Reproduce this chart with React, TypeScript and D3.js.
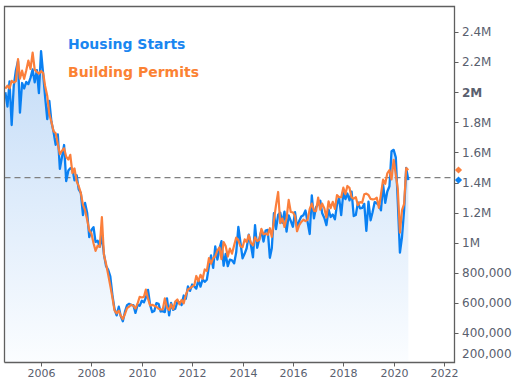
import React from "react";
import * as d3 from "d3";

// Monthly series, thousands of units (SAAR), starting Aug 2004
const firstYear = 2004;
const firstMonth = 7; // August (0-based)

const housingStarts = [
  2000, 1905, 2072, 1782, 2042,
  2144, 2207, 1864, 2061, 2025, 2068, 2054, 2095, 2151, 2065, 2147, 1994,
  2273, 2119, 1969, 1821, 1942, 1802, 1737, 1650, 1720, 1491, 1570, 1649,
  1409, 1480, 1495, 1490, 1415, 1448, 1354, 1330, 1183, 1264, 1197, 1037,
  1084, 1103, 1005, 1013, 973, 1046, 923, 844, 820, 777, 652, 560,
  517, 575, 513, 478, 540, 585, 594, 586, 585, 534, 588, 581,
  614, 604, 636, 687, 588, 539, 546, 599, 594, 543, 545, 539,
  630, 518, 600, 554, 561, 608, 604, 586, 649, 627, 709, 680,
  722, 709, 695, 753, 708, 757, 740, 754, 847, 915, 833, 976,
  888, 962, 1010, 847, 925, 844, 888, 883, 863, 936, 1105, 1003,
  896, 928, 963, 1053, 987, 903, 1117, 966, 1026, 1080, 1007, 1080,
  1085, 900, 963, 1197, 1090, 1185, 1200, 1132, 1207, 1074, 1181, 1145,
  1106, 1203, 1104, 1144, 1174, 1183, 1214, 1137, 1058, 1314, 1162, 1236,
  1255, 1279, 1196, 1164, 1117, 1220, 1171, 1187, 1155, 1252, 1299, 1183,
  1329, 1290, 1327, 1281, 1339, 1177, 1184, 1268, 1228, 1231, 1258, 1078,
  1273, 1149, 1202, 1270, 1262, 1250, 1215, 1386, 1265, 1340, 1375, 1608,
  1617, 1567, 1269, 934, 1038, 1220, 1497, 1416,
];

const buildingPermits = [
  2024, 2044, 2025, 2076, 2064,
  2074, 2220, 2090, 2143, 2089, 2146, 2210, 2155, 2263, 2150, 2135, 2123,
  2140, 2127, 2041, 1975, 1853, 1802, 1741, 1727, 1655, 1588, 1611, 1627,
  1571, 1553, 1584, 1462, 1493, 1408, 1376, 1329, 1251, 1216, 1153, 1081,
  1062, 996, 946, 980, 972, 1170, 919, 858, 786, 714, 635, 550,
  530, 548, 515, 492, 525, 565, 575, 589, 580, 563, 596, 640,
  636, 640, 688, 628, 583, 587, 581, 574, 561, 557, 556, 630,
  569, 552, 590, 559, 609, 623, 591, 620, 597, 653, 689, 697,
  708, 718, 779, 744, 787, 760, 822, 813, 898, 861, 898, 909,
  949, 968, 891, 1004, 978, 908, 961, 927, 983, 1034, 1016, 977,
  970, 1022, 1004, 1051, 1000, 982, 1036, 1011, 1018, 1092, 1056, 1061,
  1052, 1096, 1038, 1149, 1250, 1337, 1130, 1161, 1105, 1161, 1285, 1204,
  1202, 1177, 1076, 1116, 1138, 1153, 1144, 1152, 1225, 1260, 1212, 1210,
  1300, 1219, 1260, 1228, 1168, 1275, 1230, 1272, 1225, 1316, 1303, 1302,
  1366, 1323, 1377, 1364, 1301, 1292, 1303, 1249, 1270, 1265, 1322, 1326,
  1317, 1291, 1288, 1290, 1299, 1232, 1322, 1419, 1391, 1461, 1482, 1420,
  1551, 1452, 1356, 1066, 1216, 1258, 1495, 1483,
];

const seriesNames = ["Housing Starts", "Building Permits"];
const seriesColors = ["#0a80f2", "#fb7f3c"];

const yTicks = [400000, 600000, 800000, 1000000, 1200000, 1400000, 1600000, 1800000, 2000000, 2200000, 2400000];
const yTickLabels = ["400,000", "600,000", "800,000", "1M", "1.2M", "1.4M", "1.6M", "1.8M", "2M", "2.2M", "2.4M"];
const yBottomLabel = "200,000";
const xTickYears = [2006, 2008, 2010, 2012, 2014, 2016, 2018, 2020, 2022];
const referenceLevel = 1433000;

type Pt = { date: Date; v: number };

export default function App() {
  const W = 516;
  const H = 382;
  const L = 4.5;
  const R = 454.5;
  const T = 6.5;
  const B = 362.5;

  const x = d3
    .scaleTime()
    .domain([new Date(2004, 6, 20), new Date(2022, 4, 25)])
    .range([4.5, 454]);
  const y = d3.scaleLinear().domain([207300, 2572800]).range([362, 6]);

  const toPts = (arr: number[]): Pt[] =>
    arr.map((v, i) => ({ date: new Date(firstYear, firstMonth + i, 1), v: v * 1000 }));
  const starts = toPts(housingStarts);
  const permits = toPts(buildingPermits);

  const line = d3
    .line<Pt>()
    .x((d) => x(d.date))
    .y((d) => y(d.v));
  const area = d3
    .area<Pt>()
    .x((d) => x(d.date))
    .y0(B)
    .y1((d) => y(d.v));

  const textColor = "#59606e";
  const axisColor = "#5f5f5f";
  const font = "'DejaVu Sans', Verdana, sans-serif";

  const lastStart = starts[starts.length - 1].v;
  const lastPermit = permits[permits.length - 1].v;
  const diamond = (cx: number, cy: number, r: number) =>
    `M${cx},${cy - r}L${cx + r},${cy}L${cx},${cy + r}L${cx - r},${cy}Z`;

  return (
    <svg
      width={W}
      height={H}
      style={{ position: "absolute", left: 0, top: 0, background: "#fff" }}
      fontFamily={font}
    >
      <defs>
        <linearGradient id="fillGrad" gradientUnits="userSpaceOnUse" x1="0" y1="40" x2="0" y2={B}>
          <stop offset="0" stopColor="#c2dbf7" />
          <stop offset="1" stopColor="#fbfdff" />
        </linearGradient>
      </defs>

      <path d={area(starts) || ""} fill="url(#fillGrad)" />

      <line
        x1={L}
        x2={R}
        y1={y(referenceLevel)}
        y2={y(referenceLevel)}
        stroke="#808080"
        strokeWidth={1.3}
        strokeDasharray="6,4"
      />

      <path d={line(starts) || ""} fill="none" stroke={seriesColors[0]} strokeWidth={2.3} strokeLinejoin="round" />
      <path d={line(permits) || ""} fill="none" stroke={seriesColors[1]} strokeWidth={2.2} strokeLinejoin="round" />

      {/* frame */}
      <path d={`M${L},${B}L${L},${T}L${R},${T}L${R},${B}L${L},${B}`} fill="none" stroke={axisColor} strokeWidth={1.3} />

      {/* y axis ticks */}
      {yTicks.map((t, i) => (
        <g key={t}>
          <line x1={R} x2={R + 4} y1={Math.round(y(t)) + 0.5} y2={Math.round(y(t)) + 0.5} stroke={axisColor} strokeWidth={1} />
          <text
            x={462}
            y={y(t)}
            dy="0.36em"
            fontSize={12}
            fill={textColor}
            fontWeight={yTickLabels[i] === "2M" ? "bold" : "normal"}
          >
            {yTickLabels[i]}
          </text>
        </g>
      ))}
      <text x={462} y={354} dy="0.36em" fontSize={12} fill={textColor}>
        {yBottomLabel}
      </text>

      {/* x axis ticks */}
      {xTickYears.map((yr) => {
        const px = Math.round(x(new Date(yr, 0, 1))) + 0.5;
        return (
          <g key={yr}>
            <line x1={px} x2={px} y1={B} y2={B + 4} stroke={axisColor} strokeWidth={1} />
            <text x={px} y={377} fontSize={11} textAnchor="middle" fill={textColor}>
              {yr}
            </text>
          </g>
        );
      })}

      {/* last value markers */}
      <path d={diamond(458.5, y(lastPermit), 3.6)} fill={seriesColors[1]} />
      <path d={diamond(458.5, y(lastStart), 3.6)} fill={seriesColors[0]} />

      {/* legend */}
      <text x={68} y={48.5} fontSize={14} fontWeight="bold" fill="#1a86f0">
        {seriesNames[0]}
      </text>
      <text x={68} y={76.5} fontSize={14} fontWeight="bold" fill="#fb8233">
        {seriesNames[1]}
      </text>
    </svg>
  );
}
